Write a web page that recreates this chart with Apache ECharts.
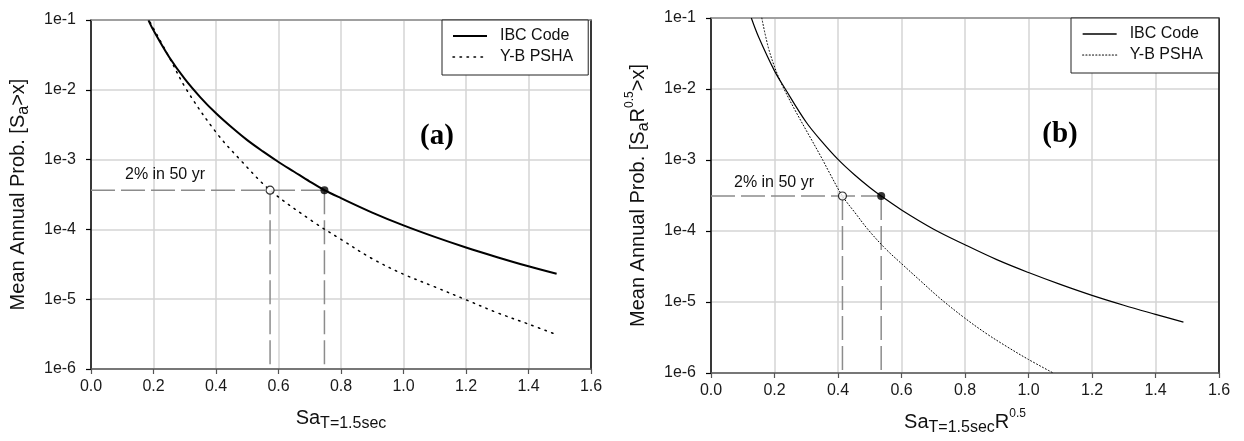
<!DOCTYPE html>
<html><head><meta charset="utf-8">
<script src="https://cdn.jsdelivr.net/npm/echarts@6/dist/echarts.min.js"></script>
<style>html,body{margin:0;padding:0;background:#fff}#c{width:1244px;height:441px}</style>
</head><body><div id="c"></div>
<script>
// ---- data ----
const xTickLabels = ['0.0','0.2','0.4','0.6','0.8','1.0','1.2','1.4','1.6'];
const yTickLabels = ['1e-6','1e-5','1e-4','1e-3','1e-2','1e-1'];

// (a) Sa
const ibcA_x = [0.184,0.2,0.25,0.3,0.35,0.4,0.45,0.5,0.55,0.6,0.65,0.7,0.747,0.8,0.9,1.0,1.1,1.2,1.3,1.4,1.49];
const ibcA_y = [0.099,0.071,0.0295,0.0143,0.0078,0.0046,0.0029,0.0019,0.00131,9.25e-4,6.7e-4,4.85e-4,3.65e-4,2.8e-4,1.74e-4,1.14e-4,7.8e-5,5.5e-5,4.0e-5,2.96e-5,2.31e-5];
const ybA_x = [0.189,0.244,0.306,0.402,0.477,0.573,0.714,0.8,0.9,1.0,1.1,1.2,1.3,1.4,1.49];
const ybA_y = [0.093,0.033,0.01,0.0024,0.001,3.65e-4,1.26e-4,7.2e-5,3.8e-5,2.28e-5,1.5e-5,9.8e-6,6.4e-6,4.4e-6,3.1e-6];

// (b) Sa*R^0.5
const ibcB_x = [0.127,0.15,0.2,0.234,0.3,0.35,0.4,0.45,0.5,0.536,0.6,0.7,0.8,0.9,1.0,1.1,1.2,1.3,1.4,1.488];
const ibcB_y = [0.1,0.054,0.018,0.01,0.0034,0.0018,0.00102,6.3e-4,4.1e-4,3.11e-4,1.98e-4,1.07e-4,6.4e-5,3.95e-5,2.6e-5,1.77e-5,1.24e-5,9.0e-6,6.7e-6,5.2e-6];
const ybB_x = [0.16,0.186,0.23,0.352,0.37,0.414,0.454,0.496,0.55,0.6,0.659,0.722,0.8,0.869,0.932,1.0,1.078];
const ybB_y = [0.1,0.0316,0.01,0.001,7e-4,3.11e-4,1.8e-4,1.03e-4,5.6e-5,3.47e-5,2.0e-5,1.12e-5,5.9e-6,3.55e-6,2.35e-6,1.55e-6,1e-6];

// 2% in 50 yr hazard level and intersections [a, b]
const hazardLevel = [3.65e-4, 3.11e-4];
const ybAt = [0.573, 0.414];
const ibcAt = [0.747, 0.536];
const yFloor = 1e-6;

const seriesNames = ['IBC Code', 'Y-B PSHA'];
const hazardText = '2% in 50 yr';
const panelLabels = ['(a)', '(b)'];

// ---- build ----
const FONT = 'Liberation Sans';
const zip = (xs, ys) => xs.map((x, i) => [x, ys[i]]);

const nameRich = {
  n: {fontSize: 20, fontFamily: FONT, color: '#111', lineHeight: 28, verticalAlign: 'middle'},
  s: {fontSize: 16, fontFamily: FONT, color: '#111', lineHeight: 16, verticalAlign: 'bottom'},
  p: {fontSize: 12, fontFamily: FONT, color: '#111', lineHeight: 12, verticalAlign: 'top'}
};

function xAxisMain(grid, name) {
  return {
    type: 'value', gridIndex: grid, min: 0, max: 1.6, interval: 0.2, position: 'bottom',
    name: name, nameLocation: 'middle', nameGap: 35,
    nameTextStyle: {rich: nameRich},
    axisLine: {show: true, lineStyle: {color: '#555', width: 1.5}},
    axisTick: {show: true, inside: false, length: 5, lineStyle: {color: '#555', width: 1.2}},
    axisLabel: {fontSize: 16, fontFamily: FONT, color: '#1a1a1a', margin: 10,
      formatter: v => xTickLabels[Math.round(v / 0.2)]},
    splitLine: {show: true, lineStyle: {color: '#d4d4d4', width: 1.5}}
  };
}
function xAxisTop(grid) {
  return {type: 'value', gridIndex: grid, min: 0, max: 1, position: 'top',
    axisLine: {show: true, onZero: false, lineStyle: {color: '#8f8f8f', width: 1.5}},
    axisTick: {show: false}, axisLabel: {show: false}, splitLine: {show: false}};
}
function yAxisMain(grid, name) {
  return {
    type: 'log', logBase: 10, gridIndex: grid, min: 1e-6, max: 1e-1, position: 'left',
    name: name, nameLocation: 'middle', nameGap: 59, nameRotate: 90,
    nameTextStyle: {rich: nameRich},
    axisLine: {show: true, onZero: false, lineStyle: {color: '#000', width: 1.5}},
    axisTick: {show: true, inside: false, length: 5, lineStyle: {color: '#000', width: 1.2}},
    axisLabel: {fontSize: 16, fontFamily: FONT, color: '#1a1a1a', margin: 15,
      formatter: v => yTickLabels[Math.round(Math.log10(v)) + 6]},
    minorTick: {show: false},
    splitLine: {show: true, lineStyle: {color: '#d4d4d4', width: 1.5}}
  };
}
function yAxisRight(grid) {
  return {type: 'value', gridIndex: grid, min: 0, max: 1, position: 'right',
    axisLine: {show: true, onZero: false, lineStyle: {color: '#000', width: 1.5}},
    axisTick: {show: false}, axisLabel: {show: false}, splitLine: {show: false}};
}

function panelSeries(k, xi, yi, ibc, yb, solidW, dotW, dotDash) {
  const guide = {color: '#8c8c8c', width: 1.5, type: [24, 6]};
  const base = {xAxisIndex: xi, yAxisIndex: yi, symbol: 'none', silent: true, animation: false};
  return [
    Object.assign({}, base, {type: 'line', name: 'guideH' + k, z: 1,
      data: [[0, hazardLevel[k]], [ibcAt[k], hazardLevel[k]]], lineStyle: guide}),
    Object.assign({}, base, {type: 'line', name: 'guideV1' + k, z: 1,
      data: [[ybAt[k], hazardLevel[k]], [ybAt[k], yFloor]], lineStyle: guide}),
    Object.assign({}, base, {type: 'line', name: 'guideV2' + k, z: 1,
      data: [[ibcAt[k], hazardLevel[k]], [ibcAt[k], yFloor]], lineStyle: guide}),
    Object.assign({}, base, {type: 'line', name: seriesNames[1], z: 3, smooth: 0.35,
      data: yb, lineStyle: {color: '#000', width: dotW, type: dotDash, cap: 'round'}, itemStyle: {color: '#000'}}),
    Object.assign({}, base, {type: 'line', name: seriesNames[0], z: 4, smooth: 0.35,
      data: ibc, lineStyle: {color: '#000', width: solidW, type: 'solid'}, itemStyle: {color: '#000'}}),
    Object.assign({}, base, {type: 'scatter', name: 'openPt' + k, z: 6, symbol: 'circle', symbolSize: 8,
      data: [[ybAt[k], hazardLevel[k]]], itemStyle: {color: '#fff', borderColor: '#000', borderWidth: 1.2}}),
    Object.assign({}, base, {type: 'scatter', name: 'fullPt' + k, z: 6, symbol: 'circle', symbolSize: 8,
      data: [[ibcAt[k], hazardLevel[k]]], itemStyle: {color: '#000'}})
  ];
}

const hiddenSym = {color: 'rgba(0,0,0,0)', borderColor: 'rgba(0,0,0,0)', borderWidth: 0, opacity: 0};
const legendBase = {
  orient: 'vertical', itemWidth: 34, itemHeight: 12, itemGap: 1,
  borderColor: '#222', borderWidth: 1, borderRadius: 0, backgroundColor: '#fff',
  textStyle: {fontSize: 16, fontFamily: FONT, color: '#111', lineHeight: 20, padding: [0, 0, 0, 8]},
  selectedMode: false, z: 10
};

const option = {
  animation: false,
  backgroundColor: '#fff',
  textStyle: {fontFamily: FONT},
  grid: [
    {left: 91, top: 20, width: 500, height: 349, containLabel: false},
    {left: 711, top: 18, width: 508, height: 355, containLabel: false}
  ],
  xAxis: [
    xAxisMain(0, '{n|Sa}{s|T=1.5sec}'),
    xAxisTop(0),
    xAxisMain(1, '{n|Sa}{s|T=1.5sec}{n|R}{p|0.5}'),
    xAxisTop(1)
  ],
  yAxis: [
    yAxisMain(0, '{n|Mean Annual Prob. [S}{s|a}{n|>x]}'),
    yAxisRight(0),
    yAxisMain(1, '{n|Mean Annual Prob. [S}{s|a}{n|R}{p|0.5}{n|>x]}'),
    yAxisRight(1)
  ],
  legend: [
    Object.assign({}, legendBase, {left: 442, top: 20, padding: [6, 15, 8, 10],
      data: [
        {name: seriesNames[0], itemStyle: hiddenSym, lineStyle: {width: 2, type: 'solid', color: '#000'}},
        {name: seriesNames[1], itemStyle: hiddenSym, lineStyle: {width: 1.5, type: [1.5, 5.5], color: '#000'}}
      ]}),
    Object.assign({}, legendBase, {left: 1071, top: 18, padding: [6, 16, 8, 11],
      data: [
        {name: seriesNames[0], itemStyle: hiddenSym, lineStyle: {width: 1.3, type: 'solid', color: '#000'}},
        {name: seriesNames[1], itemStyle: hiddenSym, lineStyle: {width: 1.2, type: [1, 2.3], color: '#000'}}
      ]})
  ],
  graphic: [
    {type: 'text', x: 437, y: 137, z: 20, style: {text: panelLabels[0], font: 'bold 29px "Liberation Serif"', fill: '#000', align: 'center', verticalAlign: 'middle'}},
    {type: 'text', x: 1060, y: 135, z: 20, style: {text: panelLabels[1], font: 'bold 29px "Liberation Serif"', fill: '#000', align: 'center', verticalAlign: 'middle'}},
    {type: 'text', x: 165, y: 175, z: 20, style: {text: hazardText, font: '16px "Liberation Sans"', fill: '#111', align: 'center', verticalAlign: 'middle'}},
    {type: 'text', x: 774, y: 183, z: 20, style: {text: hazardText, font: '16px "Liberation Sans"', fill: '#111', align: 'center', verticalAlign: 'middle'}}
  ],
  series: [].concat(
    panelSeries(0, 0, 0, zip(ibcA_x, ibcA_y), zip(ybA_x, ybA_y), 2, 1.5, [1.5, 5.5]),
    panelSeries(1, 2, 2, zip(ibcB_x, ibcB_y), zip(ybB_x, ybB_y), 1.2, 1, [1, 2.3])
  )
};

const chart = echarts.init(document.getElementById('c'), null, {renderer: 'canvas'});
chart.setOption(option);
</script>
</body></html>
